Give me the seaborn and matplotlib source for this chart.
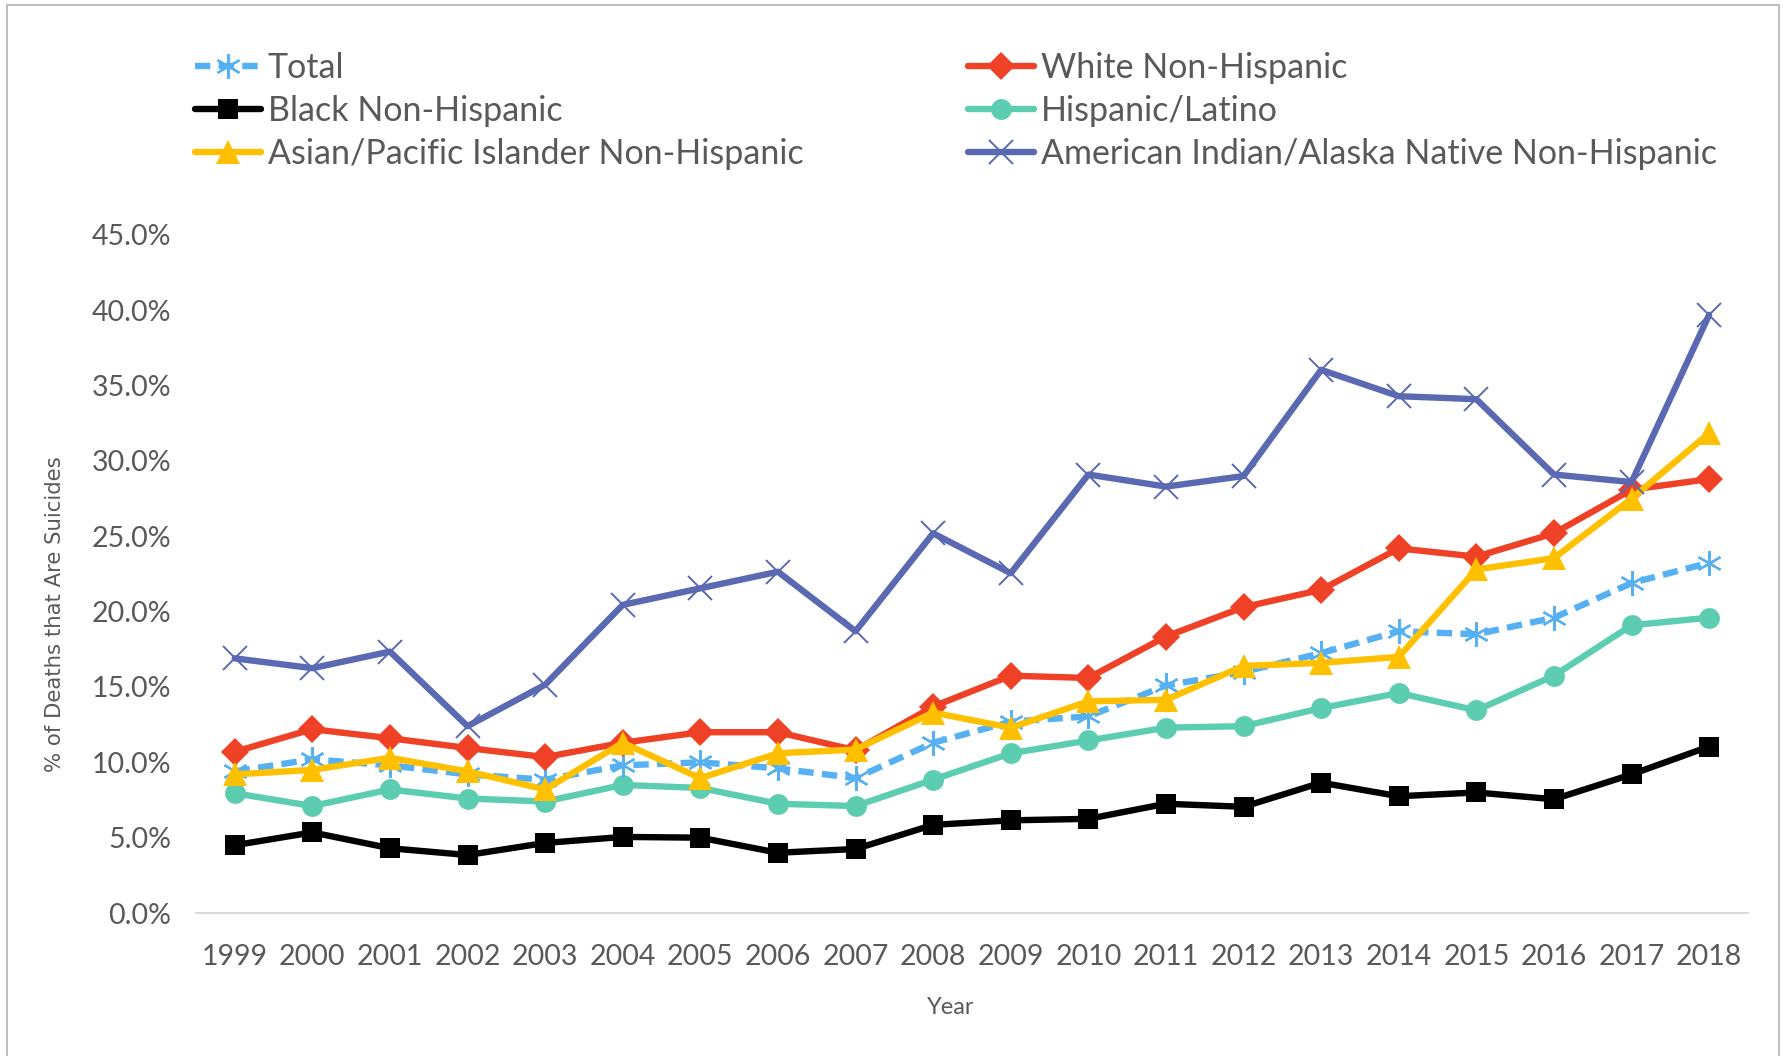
import numpy as np
import pandas as pd
import matplotlib.pyplot as plt
import seaborn as sns
from matplotlib.patches import Rectangle

# values (percent)
years = list(range(1999, 2019))
total = [9.4, 10.2, 9.8, 9.2, 8.85, 9.8, 10.0, 9.6, 8.95, 11.3,
         12.7, 13.05, 15.1, 16.0, 17.25, 18.7, 18.5, 19.6, 21.9, 23.25]
white = [10.7, 12.2, 11.6, 10.95, 10.35, 11.3, 12.0, 12.0, 10.8, 13.7,
         15.75, 15.6, 18.35, 20.3, 21.45, 24.2, 23.65, 25.2, 28.1, 28.8]
black = [4.5, 5.35, 4.3, 3.85, 4.65, 5.05, 5.0, 4.0, 4.25, 5.85,
         6.15, 6.25, 7.25, 7.05, 8.65, 7.75, 8.0, 7.55, 9.2, 11.05]
hispanic = [7.95, 7.1, 8.2, 7.6, 7.4, 8.5, 8.3, 7.25, 7.1, 8.85,
            10.6, 11.45, 12.3, 12.4, 13.6, 14.6, 13.45, 15.75, 19.1, 19.6]
asian = [9.2, 9.5, 10.3, 9.4, 8.2, 11.3, 8.95, 10.6, 10.85, 13.3,
         12.3, 14.05, 14.15, 16.4, 16.6, 17.0, 22.8, 23.55, 27.5, 31.85]
aian = [16.9, 16.25, 17.35, 12.4, 15.15, 20.45, 21.55, 22.65, 18.7, 25.2,
        22.55, 29.1, 28.3, 29.0, 36.05, 34.3, 34.1, 29.1, 28.6, 39.7]

series = {
    "Total": total,
    "White Non-Hispanic": white,
    "Black Non-Hispanic": black,
    "Hispanic/Latino": hispanic,
    "Asian/Pacific Islander Non-Hispanic": asian,
    "American Indian/Alaska Native Non-Hispanic": aian,
}

styles = {
    "Total": dict(color="#55B1F3", marker=(6, 2, 0), ms=18, mew=1.6, ls=(0, (2.4, 1.3))),
    "White Non-Hispanic": dict(color="#EE4126", marker="D", ms=14, mew=0, ls="-"),
    "Black Non-Hispanic": dict(color="#000000", marker="s", ms=15, mew=0, ls="-"),
    "Hispanic/Latino": dict(color="#5CCDB0", marker="o", ms=15, mew=0, ls="-"),
    "Asian/Pacific Islander Non-Hispanic": dict(color="#FFC000", marker="^", ms=17, mew=0, ls="-"),
    "American Indian/Alaska Native Non-Hispanic": dict(color="#5A69B2", marker="x", ms=17, mew=1.4, ls="-"),
}

sns.set_style("white")
plt.rcParams["font.family"] = ["Lato", "DejaVu Sans"]

fig = plt.figure(figsize=(17.86, 10.56), dpi=100)
ax = fig.add_axes([0.1097, 0.1354, 0.8690, 0.6421])

draw_order = ["Hispanic/Latino", "Black Non-Hispanic", "Total", "White Non-Hispanic",
              "Asian/Pacific Islander Non-Hispanic", "American Indian/Alaska Native Non-Hispanic"]
handles = {}
for name in draw_order:
    st = styles[name]
    df = pd.DataFrame({"year": years, "value": series[name]})
    sns.lineplot(data=df, x="year", y="value", ax=ax, color=st["color"], lw=4.6,
                 linestyle=st["ls"], marker=st["marker"], markersize=st["ms"],
                 markeredgewidth=st["mew"], markeredgecolor=st["color"],
                 markerfacecolor=st["color"], label=name)
    handles[name] = ax.get_lines()[-1]

if ax.legend_:
    ax.legend_.remove()

ax.set_xlim(1998.5, 2018.5)
ax.set_ylim(0, 45)
ax.set_xticks(years)
ax.set_xticklabels([str(y) for y in years])
ax.set_yticks(np.arange(0, 46, 5))
ax.set_yticklabels([f"{v:.1f}%" for v in np.arange(0, 46, 5)])
ax.tick_params(axis="both", length=0, labelsize=20.5, labelcolor="#595959")
ax.tick_params(axis="x", pad=22)
ax.tick_params(axis="y", pad=18)
for s in ["top", "right", "left"]:
    ax.spines[s].set_visible(False)
ax.spines["bottom"].set_color("#D9D9D9")
ax.spines["bottom"].set_linewidth(1.5)
ax.set_xlabel("")
ax.set_ylabel("")

fig.text(0.5325, 0.0455, "Year", ha="center", va="center", fontsize=17, color="#595959")
fig.text(0.031, 0.4186, "% of Deaths that Are Suicides", rotation=90, ha="center", va="center",
         fontsize=15.3, color="#595959", family="DejaVu Sans")

leg_kw = dict(frameon=False, fontsize=24.5, labelcolor="#595959", handlelength=1.95,
              handletextpad=0.2, labelspacing=0.32, borderpad=0, borderaxespad=0)
col1 = ["Total", "Black Non-Hispanic", "Asian/Pacific Islander Non-Hispanic"]
col2 = ["White Non-Hispanic", "Hispanic/Latino", "American Indian/Alaska Native Non-Hispanic"]
leg1 = fig.legend([handles[n] for n in col1], col1, loc="upper left",
                  bbox_to_anchor=(0.109, 0.951), **leg_kw)
leg2 = fig.legend([handles[n] for n in col2], col2, loc="upper left",
                  bbox_to_anchor=(0.542, 0.951), **leg_kw)

fig.patches.append(Rectangle((0.004, -0.01), 0.992, 1.005, transform=fig.transFigure,
                             fill=False, edgecolor="#BFBFBF", lw=1.5))

fig.savefig("out.png", dpi=100, facecolor="white")
